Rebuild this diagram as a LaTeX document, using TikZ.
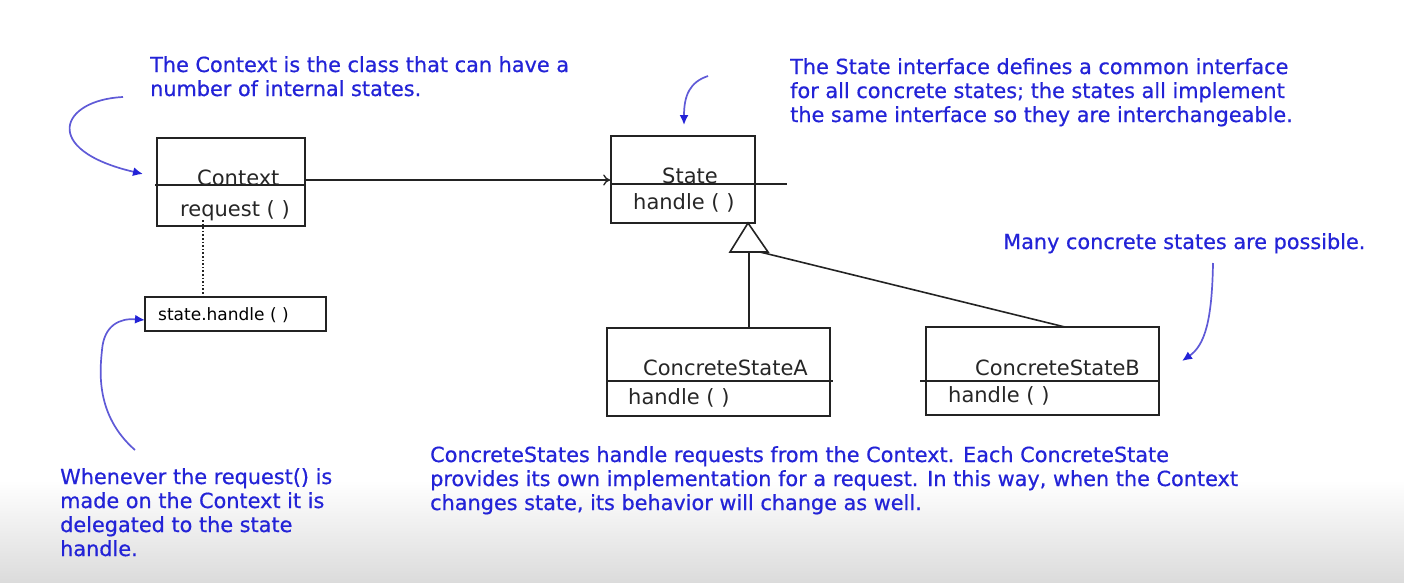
\documentclass[tikz,border=0pt]{standalone}
\usepackage{fontspec}
\setmainfont{DejaVu Sans}
\newfontfamily\notefont[FakeBold=0.6]{DejaVu Sans}
\usetikzlibrary{arrows.meta,calc}
\definecolor{note}{RGB}{35,35,215}
\definecolor{notel}{RGB}{95,90,215}
\definecolor{ln}{RGB}{35,35,35}
\tikzset{
  cls/.style={draw=ln, line width=1.6pt, inner sep=0pt},
  clstxt/.style={anchor=base west, inner sep=0pt, font=\fontsize{21}{24}\selectfont, text=black!85},
  notetxt/.style={anchor=base west, inner sep=0pt, align=left, text=note,
    font=\notefont\fontsize{20.8}{24}\selectfont},
  notearrow/.style={draw=notel, line width=1.7pt, -{Latex[length=10pt,width=9pt,color=note,fill=note]}},
  conn/.style={draw=ln, line width=1.6pt},
}
\begin{document}
\begin{tikzpicture}[x=1pt,y=-1pt]
\useasboundingbox (0,0) rectangle (1404,582);
\shade[top color=white, bottom color=black!14] (0,480) rectangle (1404,582);
% classes
\node[cls, minimum width=148pt, minimum height=88pt] (ctx) at (231,182) {};
\node[cls, minimum width=144pt, minimum height=87pt] (st) at (683,179.5) {};
\node[cls, minimum width=223pt, minimum height=88pt] (csa) at (718.5,372) {};
\node[cls, minimum width=233pt, minimum height=88pt] (csb) at (1042.5,371) {};
\node[cls, minimum width=181pt, minimum height=34pt] (sh) at (235.5,314) {};
% dividers
\draw[conn] (155,185) -- (ctx.east |- 0,185);
\draw[conn] (st.west |- 0,184) -- (787,184);
\draw[conn] (csa.west |- 0,381) -- (833,381);
\draw[conn] (920,381) -- (csb.east |- 0,381);
% class texts
\node[clstxt] (t1) at (197,185) {Context};
\node[clstxt] (t2) at (180,216) {request ( )};
\node[clstxt] (t3) at (662,183) {State};
\node[clstxt] (t4) at (633,209) {handle ( )};
\node[clstxt] (t5) at (643,375) {ConcreteStateA};
\node[clstxt] (t6) at (628,404) {handle ( )};
\node[clstxt] (t7) at (975,375) {ConcreteStateB};
\node[clstxt] (t8) at (948,402) {handle ( )};
\node[anchor=base west, inner sep=0pt, font=\fontsize{17}{20}\selectfont] (t9) at (158,320) {state.handle ( )};
% association
\draw[conn, line width=1.3pt, -{To[length=7pt,width=11pt]}] (ctx.east |- 0,180) -- (st.west |- 0,180);
% dotted
\draw[conn, dotted, line width=1.6pt] (203,220) -- (sh.north -| 203,0);
% inheritance
\coordinate (apex) at (748,223);
\coordinate (tri) at (749,252);
\draw[conn, fill=white] (apex) -- (730,252) -- (768,252) -- cycle;
\draw[conn] (tri) -- (csa.north -| tri);
\draw[conn] (760,252) -- (1065,327);
% notes (base = baseline of last line)
\node[notetxt] (n1) at (150,96) {The Context is the class that can have a\\number of internal states.};
\node[notetxt] (n2) at (790,122) {The State interface defines a common interface\\for all concrete states; the states all implement\\the same interface so they are interchangeable.};
\node[notetxt] (n3) at (1003,249) {Many concrete states are possible.};
\node[notetxt] (n4) at (60,556) {Whenever the request() is\\made on the Context it is\\delegated to the state\\handle.};
\node[notetxt] (n5) at (430,510) {ConcreteStates handle requests from the Context. Each ConcreteState\\provides its own implementation for a request. In this way, when the Context\\changes state, its behavior will change as well.};
% note arrows
\draw[notearrow] (123,97) .. controls (60,100) and (40,150) .. (143,174);
\draw[notearrow] (708,76) .. controls (690,82) and (684,95) .. (684,125);
\draw[notearrow] (1213,263) .. controls (1212,320) and (1205,345) .. (1182,361);
\draw[notearrow] (135,450) .. controls (95,415) and (100,370) .. (102,350) .. controls (104,325) and (120,318) .. (145,320);
\end{tikzpicture}
\end{document}
